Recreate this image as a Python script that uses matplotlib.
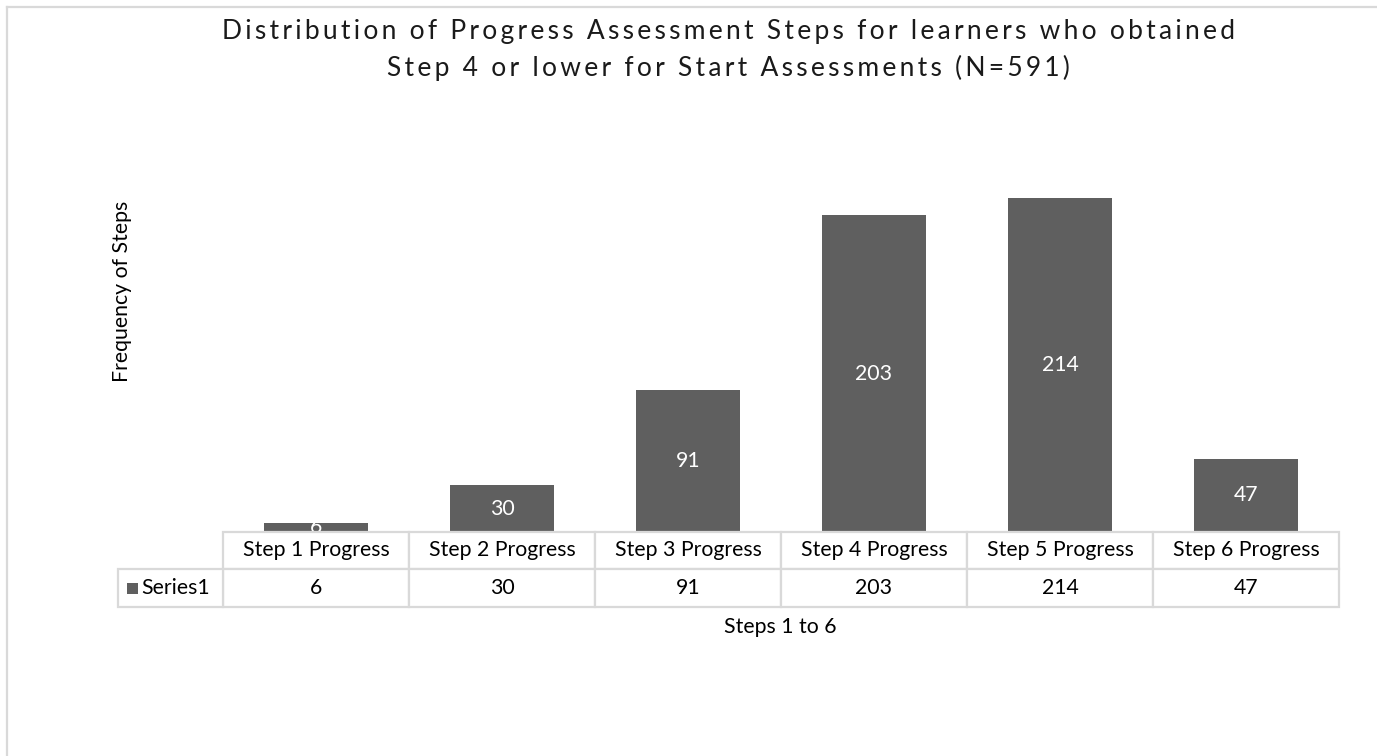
import matplotlib
matplotlib.use("Agg")
import matplotlib.pyplot as plt
from matplotlib.transforms import blended_transform_factory

categories = ["Step 1 Progress", "Step 2 Progress", "Step 3 Progress",
              "Step 4 Progress", "Step 5 Progress", "Step 6 Progress"]
values = [6, 30, 91, 203, 214, 47]
series_name = "Series1"
title = ("Distribution of Progress Assessment Steps for learners who obtained\n"
         "Step 4 or lower for Start Assessments (N=591)")

plt.rcParams["font.family"] = ["Lato", "DejaVu Sans"]

W, H = 1377, 756
fig = plt.figure(figsize=(W / 100, H / 100), dpi=100)

def fx(px):
    return px / W

def fy(py):
    return 1 - py / H

bar_color = "#5f5f5f"
grid = "#d9d9d9"
fs = 15.3

# plot area
left, right, base, top = 223, 1339, 532, 64
ax = fig.add_axes([fx(left), fy(base), fx(right - left), (base - top) / H])
x = list(range(len(categories)))
bars = ax.bar(x, values, width=0.56, color=bar_color, zorder=2)
ax.set_xlim(-0.5, len(categories) - 0.5)
ax.set_ylim(0, 300)
ax.axis("off")

for xi, v in zip(x, values):
    ax.text(xi, v / 2, str(v), ha="center", va="center", color="white",
            fontsize=fs, zorder=3)

# data table under the bars
tr = blended_transform_factory(ax.transData, fig.transFigure)
row1_top, row1_bot, row2_bot = fy(532), fy(569), fy(607)
for i, (cat, v) in enumerate(zip(categories, values)):
    for y0, y1 in [(row1_bot, row1_top), (row2_bot, row1_bot)]:
        ax.add_patch(plt.Rectangle((i - 0.5, y0), 1, y1 - y0, transform=tr,
                                   facecolor="white", edgecolor=grid, lw=1.6,
                                   clip_on=False, zorder=5))
    ax.text(i, (row1_top + row1_bot) / 2, cat, transform=tr, ha="center",
            va="center", fontsize=fs, zorder=6)
    ax.text(i, (row1_bot + row2_bot) / 2, str(v), transform=tr, ha="center",
            va="center", fontsize=fs, zorder=6)

fig.patches.append(plt.Rectangle((fx(118), row2_bot), fx(left - 118),
                                 row1_bot - row2_bot, transform=fig.transFigure,
                                 facecolor="white", edgecolor=grid, lw=1.6, zorder=5))
fig.patches.append(plt.Rectangle((fx(127), fy(594)), fx(11), 11 / H,
                                 transform=fig.transFigure, facecolor=bar_color,
                                 edgecolor="none", zorder=6))
fig.text(fx(141), (row1_bot + row2_bot) / 2, series_name, ha="left",
         va="center", fontsize=fs, zorder=6)

# axis titles
fig.text(fx(122), fy(291), "Frequency of Steps", rotation=90, ha="center",
         va="center", fontsize=fs)
fig.text(fx(780), fy(627), "Steps 1 to 6", ha="center", va="center",
         fontsize=fs)

# spaced chart title
spaced = "\n".join("\u2009".join(line) for line in title.split("\n"))
fig.text(fx(728), fy(50), spaced, ha="center", va="center", fontsize=19,
         linespacing=1.55, color="#1a1a1a")

# chart border
fig.add_artist(plt.Line2D([fx(7), 1], [fy(7), fy(7)], color=grid, lw=1.6))
fig.add_artist(plt.Line2D([fx(7), fx(7)], [0, fy(7)], color=grid, lw=1.6))

fig.savefig("out.png", dpi=100)
